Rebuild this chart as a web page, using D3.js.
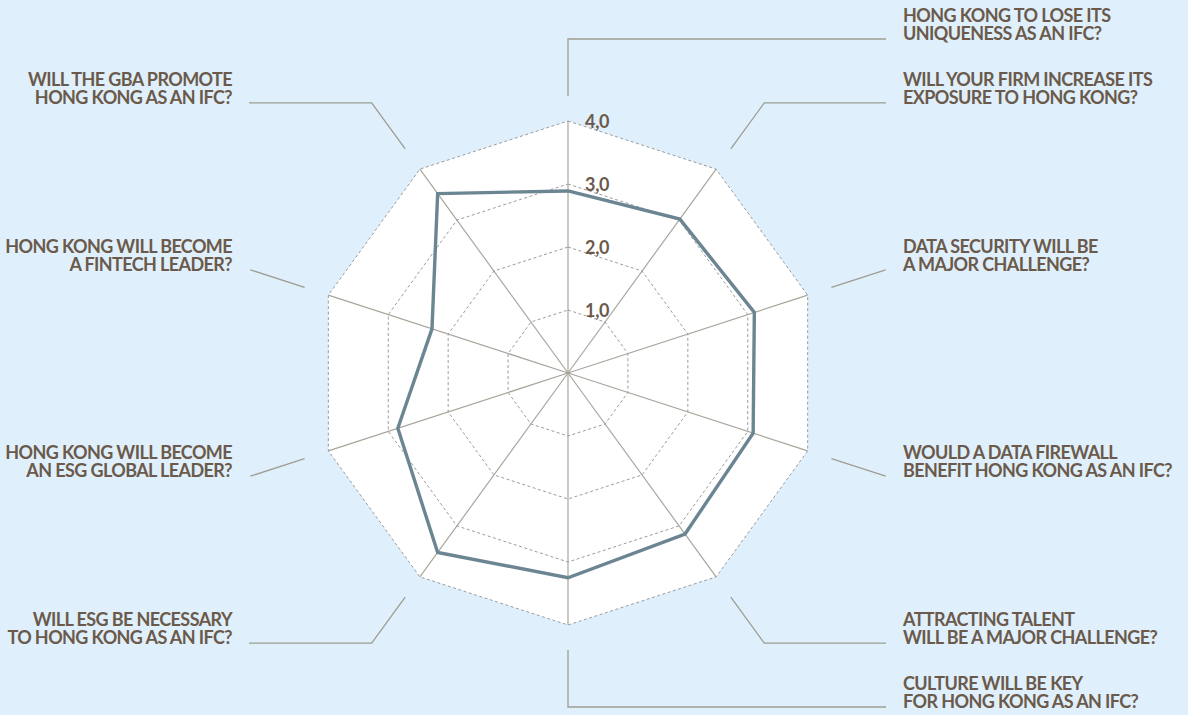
<!DOCTYPE html>
<html>
<head>
<meta charset="utf-8">
<script src="https://cdn.jsdelivr.net/npm/d3@7"></script>
<style>
  html, body { margin: 0; padding: 0; background: #dff0fc; }
  svg { display: block; }
  text { font-family: Lato, "Open Sans", sans-serif; font-weight: 700; fill: #6b5a4b; }
</style>
</head>
<body>
<svg id="chart" width="1188" height="715"></svg>
<script>
// ---- data ----
const categories = [
  ["HONG KONG TO LOSE ITS", "UNIQUENESS AS AN IFC?"],
  ["WILL YOUR FIRM INCREASE ITS", "EXPOSURE TO HONG KONG?"],
  ["DATA SECURITY WILL BE", "A MAJOR CHALLENGE?"],
  ["WOULD A DATA FIREWALL", "BENEFIT HONG KONG AS AN IFC?"],
  ["ATTRACTING TALENT", "WILL BE A MAJOR CHALLENGE?"],
  ["CULTURE WILL BE KEY", "FOR HONG KONG AS AN IFC?"],
  ["WILL ESG BE NECESSARY", "TO HONG KONG AS AN IFC?"],
  ["HONG KONG WILL BECOME", "AN ESG GLOBAL LEADER?"],
  ["HONG KONG WILL BECOME", "A FINTECH LEADER?"],
  ["WILL THE GBA PROMOTE", "HONG KONG AS AN IFC?"]
];
const values = [2.89, 3.02, 3.11, 3.09, 3.16, 3.25, 3.52, 2.84, 2.27, 3.52];
const tickValues = [1, 2, 3, 4];
const tickLabels = ["1,0", "2,0", "3,0", "4,0"];

// ---- layout ----
const W = 1188, H = 715;
const cx = 568, cy = 373, R = 252;
const n = categories.length;
const svg = d3.select("#chart");

const rScale = d3.scaleLinear().domain([0, 4]).range([0, R]);
const angle = d3.scaleLinear().domain([0, n]).range([0, 2 * Math.PI]);

const pt = (i, r) => [cx + r * Math.sin(angle(i)), cy - r * Math.cos(angle(i))];

const g = svg.append("g");

// white fill of the outer polygon
const polyLine = d3.line();
g.append("path")
  .attr("d", polyLine(d3.range(n).map(i => pt(i, rScale(4)))) + "Z")
  .attr("fill", "#ffffff");

// spokes
g.selectAll("line.spoke").data(d3.range(n)).join("line")
  .attr("class", "spoke")
  .attr("x1", cx).attr("y1", cy)
  .attr("x2", i => pt(i, rScale(4))[0])
  .attr("y2", i => pt(i, rScale(4))[1])
  .attr("stroke", "#a8a69b").attr("stroke-width", 1.2);

// grid rings (dotted)
g.selectAll("path.ring").data(tickValues).join("path")
  .attr("class", "ring")
  .attr("d", v => polyLine(d3.range(n).map(i => pt(i, rScale(v)))) + "Z")
  .attr("fill", "none")
  .attr("stroke", "#9c9c9c")
  .attr("stroke-width", 1)
  .attr("stroke-dasharray", "3,2.5");

// data polygon
const radial = d3.lineRadial()
  .angle((d, i) => angle(i))
  .radius(d => rScale(d))
  .curve(d3.curveLinearClosed);
g.append("path")
  .attr("transform", `translate(${cx},${cy})`)
  .attr("d", radial(values))
  .attr("fill", "none")
  .attr("stroke", "#6c8592")
  .attr("stroke-width", 3.4)
  .attr("stroke-linejoin", "miter");

// tick labels
g.selectAll("text.tick").data(tickValues).join("text")
  .attr("class", "tick")
  .attr("x", cx + 17)
  .attr("y", v => cy - rScale(v) + 7)
  .attr("font-size", 18)
  .attr("letter-spacing", "-0.3px")
  .text((v, i) => tickLabels[i]);

// leader lines + category labels
const rStart = 277, rElbow = 334;
const xRightEnd = 886, xLeftEnd = 249;
const leaders = g.append("g");
d3.range(n).forEach(i => {
  const s = pt(i, rStart);
  const e = pt(i, rElbow);
  const sinA = Math.sin(angle(i));
  let pts;
  let right = sinA > 1e-6 || (Math.abs(sinA) < 1e-6);
  if (Math.abs(sinA) < 1e-6) {
    // vertical axes go right
    pts = [s, e, [xRightEnd, e[1]]];
  } else if (sinA > 0) {
    pts = e[0] < xRightEnd - 5 ? [s, e, [xRightEnd, e[1]]] : [s, e];
  } else {
    right = false;
    pts = e[0] > xLeftEnd + 5 ? [s, e, [xLeftEnd, e[1]]] : [s, e];
  }
  leaders.append("path")
    .attr("d", d3.line()(pts))
    .attr("fill", "none")
    .attr("stroke", "#9d9d92")
    .attr("stroke-width", 1.3);

  const endY = pts[pts.length - 1][1];
  const t = leaders.append("text")
    .attr("x", right ? 903 : 232)
    .attr("y", endY + 1)
    .attr("text-anchor", right ? "start" : "end")
    .attr("font-size", 18)
    .attr("letter-spacing", "-0.6px");
  t.append("tspan").attr("x", right ? 903 : 232).attr("dy", -18).text(categories[i][0]);
  t.append("tspan").attr("x", right ? 903 : 232).attr("dy", 18).text(categories[i][1]);
});
</script>
</body>
</html>
